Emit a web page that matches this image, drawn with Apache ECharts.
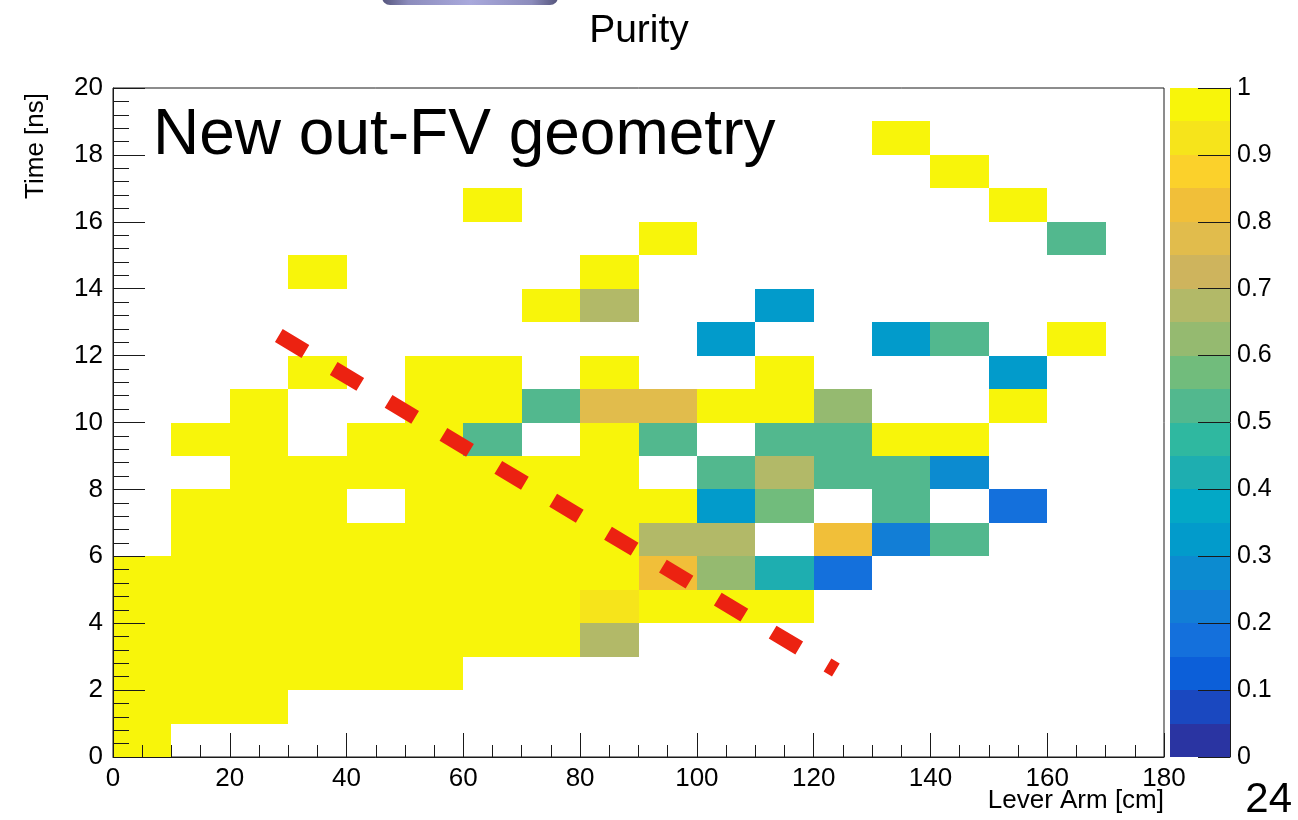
<!DOCTYPE html>
<html>
<head>
<meta charset="utf-8">
<script src="https://cdn.jsdelivr.net/npm/echarts@6/dist/echarts.min.js"></script>
<style>
html,body{margin:0;padding:0;background:#ffffff;}
#chart{width:1298px;height:820px;}
</style>
</head>
<body>
<div id="chart"></div>
<script>
// ---- data ----
// bin edges
const xEdges = [0,10,20,30,40,50,60,70,80,90,100,110,120,130,140,150,160,170,180];
const yEdges = [0,1,2,3,4,5,6,7,8,9,10,11,12,13,14,15,16,17,18,19,20];
const _ = null;
// purity per cell; rows from bottom (0-1 ns) to top (19-20 ns), 18 lever-arm bins each
const purity = [
  [1,_,_,_,_,_,_,_,_,_,_,_,_,_,_,_,_,_],                       // 0-1
  [1,1,1,_,_,_,_,_,_,_,_,_,_,_,_,_,_,_],                       // 1-2
  [1,1,1,1,1,1,_,_,_,_,_,_,_,_,_,_,_,_],                       // 2-3
  [1,1,1,1,1,1,1,1,0.67,_,_,_,_,_,_,_,_,_],                    // 3-4
  [1,1,1,1,1,1,1,1,0.92,1,1,1,_,_,_,_,_,_],                    // 4-5
  [1,1,1,1,1,1,1,1,1,0.82,0.62,0.42,0.17,_,_,_,_,_],           // 5-6
  [_,1,1,1,1,1,1,1,1,0.67,0.67,_,0.82,0.22,0.52,_,_,_],        // 6-7
  [_,1,1,1,_,1,1,1,1,1,0.33,0.57,_,0.52,_,0.17,_,_],           // 7-8
  [_,_,1,1,1,1,1,1,1,_,0.52,0.67,0.52,0.52,0.27,_,_,_],        // 8-9
  [_,1,1,_,1,1,0.52,_,1,0.52,_,0.52,0.52,1,1,_,_,_],           // 9-10
  [_,_,1,_,_,1,1,0.52,0.77,0.77,1,1,0.62,_,_,1,_,_],           // 10-11
  [_,_,_,1,_,1,1,_,1,_,_,1,_,_,_,0.33,_,_],                    // 11-12
  [_,_,_,_,_,_,_,_,_,_,0.33,_,_,0.33,0.52,_,1,_],              // 12-13
  [_,_,_,_,_,_,_,1,0.67,_,_,0.33,_,_,_,_,_,_],                 // 13-14
  [_,_,_,1,_,_,_,_,1,_,_,_,_,_,_,_,_,_],                       // 14-15
  [_,_,_,_,_,_,_,_,_,1,_,_,_,_,_,_,0.52,_],                    // 15-16
  [_,_,_,_,_,_,1,_,_,_,_,_,_,_,_,1,_,_],                       // 16-17
  [_,_,_,_,_,_,_,_,_,_,_,_,_,_,1,_,_,_],                       // 17-18
  [_,_,_,_,_,_,_,_,_,_,_,_,_,1,_,_,_,_],                       // 18-19
  [_,_,_,_,_,_,_,_,_,_,_,_,_,_,_,_,_,_]                        // 19-20
];
// colour scale contour levels and palette (bottom to top)
const colorLevels = [0,0.05,0.1,0.15,0.2,0.25,0.3,0.35,0.4,0.45,0.5,0.55,0.6,0.65,0.7,0.75,0.8,0.85,0.9,0.95,1];
const paletteColors = ['#2a34a2','#1a48c0','#0c5fd9','#1470dc','#127ed6','#0c8bd0','#029bcb','#03a8c6',
  '#1eaeb0','#2fb8a0','#52b88e','#71bc7c','#95ba70','#b2b968','#ceb45d','#e1bc4c','#f1bf39','#fbd12b','#f6e41b','#f8f50a'];
// red dashed annotation line (lever arm, time)
const dashX = [28.4, 123.8];
const dashY = [12.6, 2.6];

// ---- build series data ----
const cells = [];
purity.forEach((row, j) => row.forEach((v, i) => {
  if (v !== null) cells.push([xEdges[i], yEdges[j], xEdges[i + 1], yEdges[j + 1], v]);
}));
const bands = paletteColors.map((c, k) => [0, colorLevels[k], 1, colorLevels[k + 1], (colorLevels[k] + colorLevels[k + 1]) / 2]);
const pieces = paletteColors.map((c, k) => k === paletteColors.length - 1
  ? { gte: colorLevels[k], lte: colorLevels[k + 1], color: c }
  : { gte: colorLevels[k], lt: colorLevels[k + 1], color: c });
const dashData = dashX.map((x, k) => [x, dashY[k]]);

function renderCell(params, api) {
  const a = api.coord([api.value(0), api.value(3)]);
  const b = api.coord([api.value(2), api.value(1)]);
  const x = Math.round(a[0]), y = Math.round(a[1]);
  return {
    type: 'rect',
    shape: { x: x, y: y, width: Math.round(b[0]) - x, height: Math.round(b[1]) - y },
    style: { fill: api.visual('color') }
  };
}

const FONT = 'Liberation Sans, Arial, Helvetica, sans-serif';
const AX = '#1a1a1a';

const chart = echarts.init(document.getElementById('chart'), null, { renderer: 'canvas' });
chart.setOption({
  animation: false,
  backgroundColor: '#ffffff',
  grid: [
    { left: 113, top: 88, width: 1051, height: 669, show: true, borderColor: AX, borderWidth: 1, backgroundColor: 'rgba(0,0,0,0)' },
    { left: 1170, top: 88, width: 60, height: 669, show: false }
  ],
  xAxis: [
    {
      type: 'value', gridIndex: 0, min: 0, max: 180, interval: 20, z: 6,
      axisLine: { show: true, onZero: false, lineStyle: { color: AX, width: 1 } },
      axisTick: { show: true, inside: true, length: 24, lineStyle: { color: AX, width: 1 } },
      minorTick: { show: true, splitNumber: 4, length: 12, lineStyle: { color: AX, width: 1 } },
      splitLine: { show: false }, minorSplitLine: { show: false },
      axisLabel: { fontSize: 26, color: '#000', fontFamily: FONT, margin: 9, showMinLabel: true, showMaxLabel: true }
    },
    { type: 'value', gridIndex: 1, min: 0, max: 1, show: false }
  ],
  yAxis: [
    {
      type: 'value', gridIndex: 0, min: 0, max: 20, interval: 2, z: 6,
      axisLine: { show: true, onZero: false, lineStyle: { color: AX, width: 1 } },
      axisTick: { show: true, inside: true, length: 32, lineStyle: { color: AX, width: 1 } },
      minorTick: { show: true, splitNumber: 5, length: 16, lineStyle: { color: AX, width: 1 } },
      splitLine: { show: false }, minorSplitLine: { show: false },
      axisLabel: { fontSize: 26, color: '#000', fontFamily: FONT, margin: 10, showMinLabel: true, showMaxLabel: true }
    },
    {
      type: 'value', gridIndex: 1, min: 0, max: 1, interval: 0.1, position: 'right', z: 6,
      axisLine: { show: true, onZero: false, lineStyle: { color: AX, width: 1 } },
      axisTick: { show: true, inside: true, length: 32, lineStyle: { color: AX, width: 1 } },
      splitLine: { show: false },
      axisLabel: { fontSize: 25, color: '#000', fontFamily: FONT, margin: 7, showMinLabel: true, showMaxLabel: true }
    }
  ],
  visualMap: {
    type: 'piecewise', show: false, dimension: 4, seriesIndex: [0, 1], pieces: pieces
  },
  series: [
    {
      type: 'custom', xAxisIndex: 0, yAxisIndex: 0, renderItem: renderCell,
      encode: { x: [0, 2], y: [1, 3] }, data: cells, z: 2
    },
    {
      type: 'custom', xAxisIndex: 1, yAxisIndex: 1, renderItem: renderCell,
      encode: { x: [0, 2], y: [1, 3] }, data: bands, z: 2
    },
    {
      type: 'line', xAxisIndex: 0, yAxisIndex: 0, data: dashData, showSymbol: false, symbol: 'none',
      lineStyle: { color: '#ec2211', width: 15, type: [31, 33], cap: 'butt' }, z: 5, silent: true
    }
  ],
  graphic: [
    {
      type: 'rect', shape: { x: 382, y: -14, width: 176, height: 19, r: 8 },
      style: {
        fill: new echarts.graphic.LinearGradient(0, 0, 1, 0, [
          { offset: 0, color: '#55557c' }, { offset: 0.15, color: '#8c8cbc' },
          { offset: 0.5, color: '#a9a9dc' }, { offset: 0.85, color: '#8c8cbc' }, { offset: 1, color: '#55557c' }
        ])
      }
    },
    {
      type: 'text', x: 639, y: 31,
      style: { text: 'Purity', fontSize: 39, fontFamily: FONT, fill: '#000', align: 'center', verticalAlign: 'middle', textAlign: 'center', textVerticalAlign: 'middle' }
    },
    {
      type: 'text', x: 153, y: 136, z: 10,
      style: { text: 'New out-FV geometry', fontSize: 64, fontFamily: FONT, fill: '#000', align: 'left', verticalAlign: 'middle', textAlign: 'left', textVerticalAlign: 'middle' }
    },
    {
      type: 'text', x: 36, y: 93, rotation: Math.PI / 2,
      style: { text: 'Time [ns]', fontSize: 26, fontFamily: FONT, fill: '#000', align: 'right', verticalAlign: 'middle', textAlign: 'right', textVerticalAlign: 'middle' }
    },
    {
      type: 'text', x: 1164, y: 801,
      style: { text: 'Lever Arm [cm]', fontSize: 26, fontFamily: FONT, fill: '#000', align: 'right', verticalAlign: 'middle', textAlign: 'right', textVerticalAlign: 'middle' }
    },
    {
      type: 'text', x: 1292, y: 800,
      style: { text: '24', fontSize: 42, fontFamily: FONT, fill: '#000', align: 'right', verticalAlign: 'middle', textAlign: 'right', textVerticalAlign: 'middle' }
    }
  ]
});
</script>
</body>
</html>
